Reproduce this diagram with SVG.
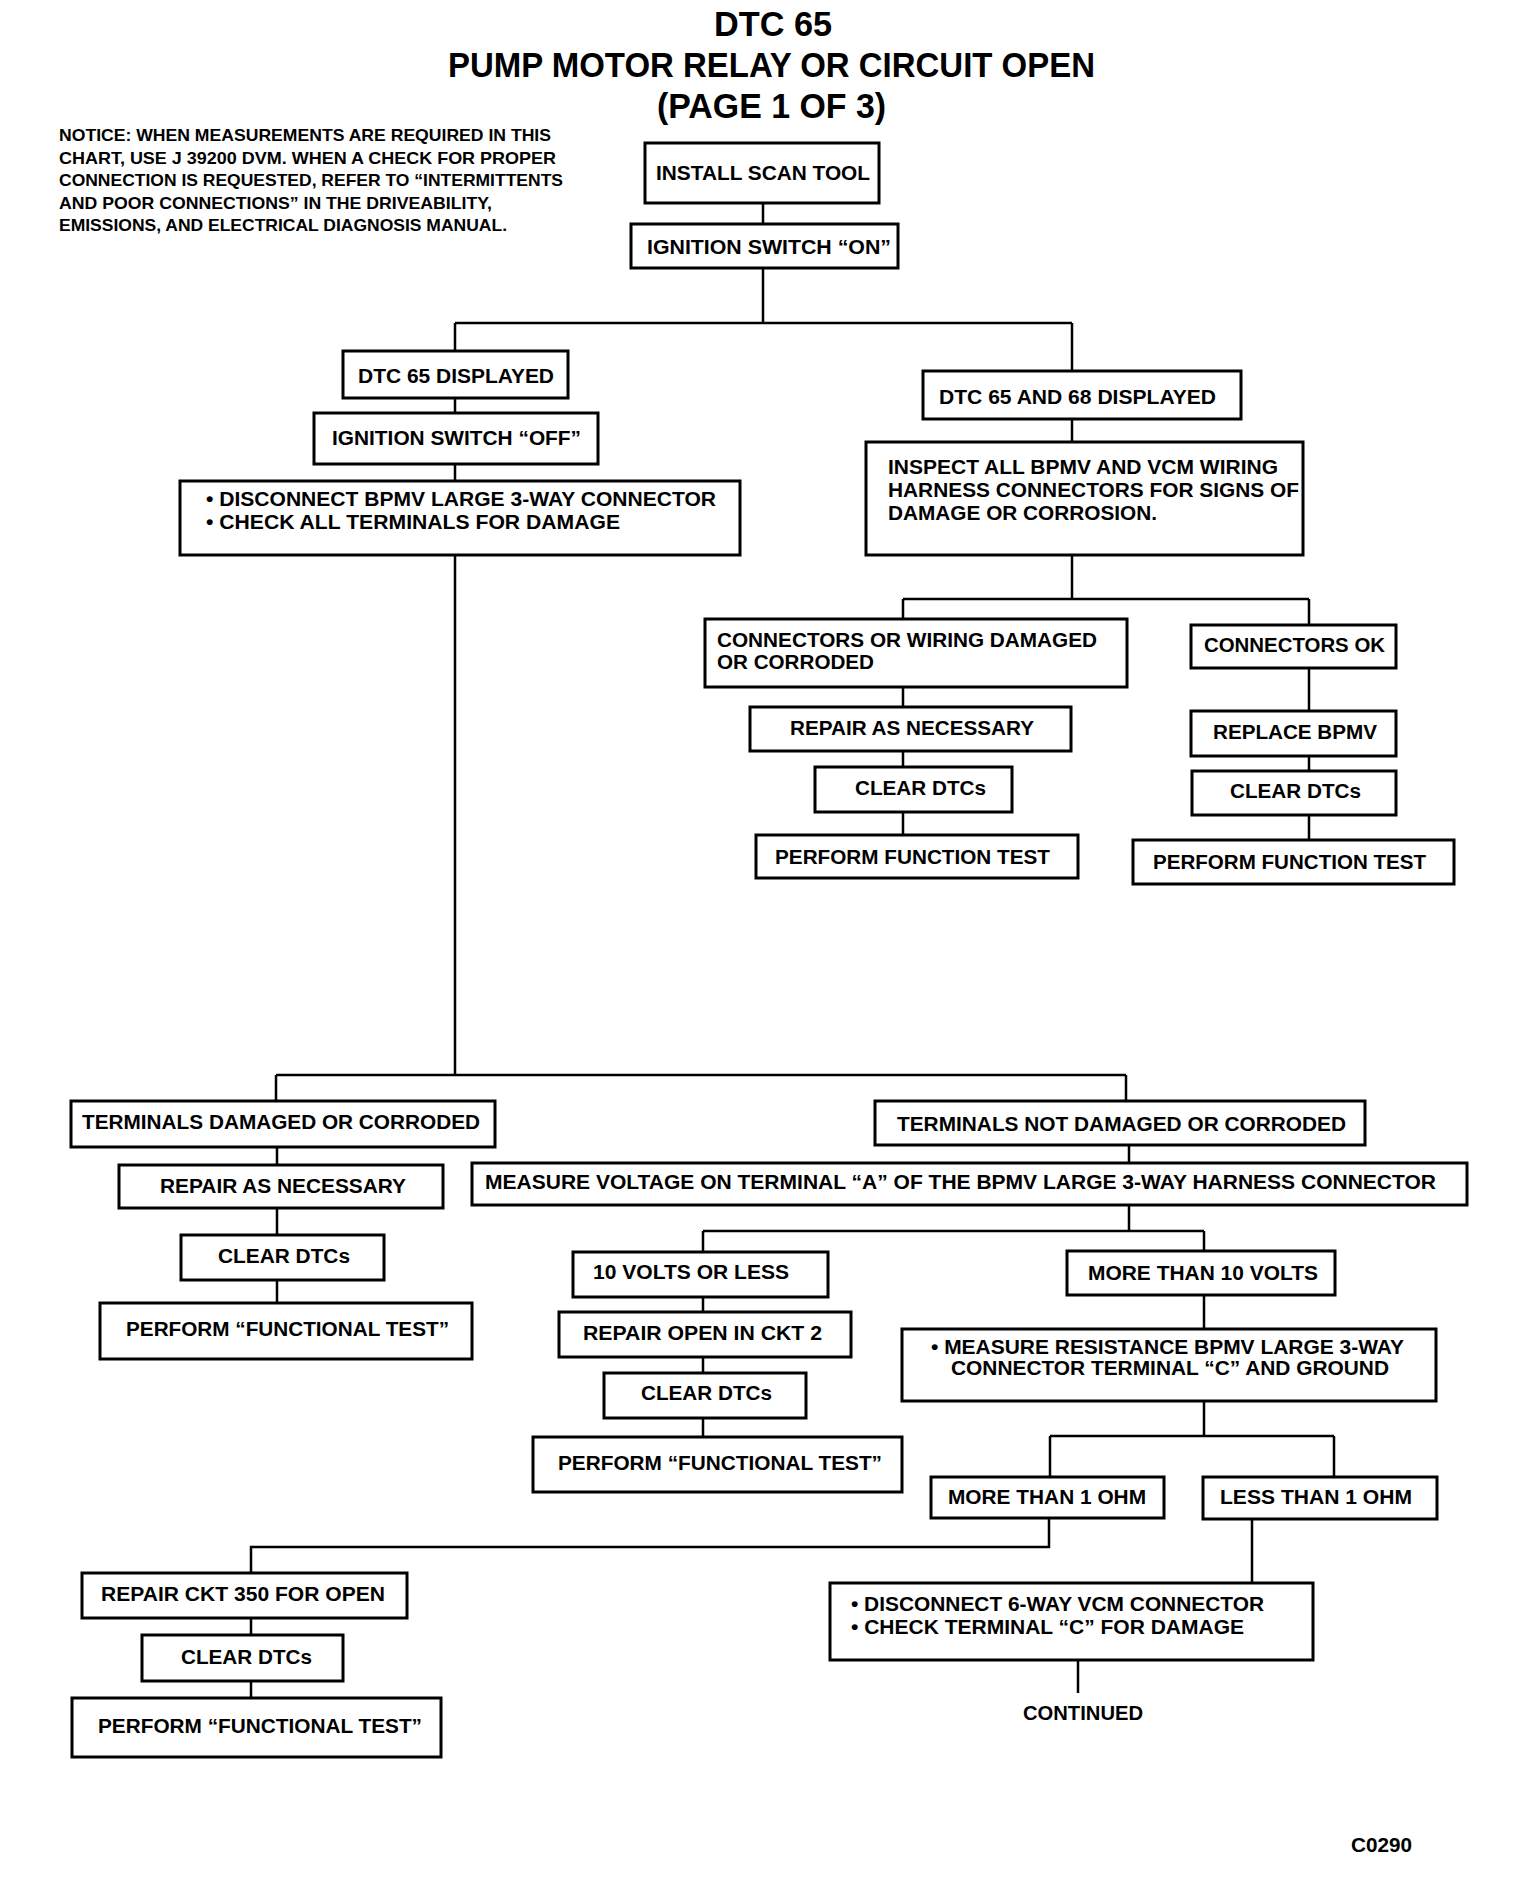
<svg xmlns="http://www.w3.org/2000/svg" width="1536" height="1888" viewBox="0 0 1536 1888">
<style>
.bx{fill:#fff;stroke:#000;stroke-width:3}
.t{font-family:"Liberation Sans",Arial,sans-serif;font-weight:bold;font-size:20px;fill:#000}
.n{font-family:"Liberation Sans",Arial,sans-serif;font-weight:bold;font-size:16.5px;fill:#000}
.h{font-family:"Liberation Sans",Arial,sans-serif;font-weight:bold;font-size:35px;fill:#000}
.ln{stroke:#000;stroke-width:2.5;fill:none}
</style>
<rect width="1536" height="1888" fill="#fff"/>
<g id="title">
<text class="h" x="714" y="36" textLength="118" lengthAdjust="spacingAndGlyphs">DTC 65</text>
<text class="h" x="448" y="77" textLength="647" lengthAdjust="spacingAndGlyphs">PUMP MOTOR RELAY OR CIRCUIT OPEN</text>
<text class="h" x="657" y="118" textLength="229" lengthAdjust="spacingAndGlyphs">(PAGE 1 OF 3)</text>
</g>
<g id="notice">
<text class="n" x="59" y="141" textLength="492" lengthAdjust="spacingAndGlyphs">NOTICE: WHEN MEASUREMENTS ARE REQUIRED IN THIS</text>
<text class="n" x="59" y="164" textLength="497" lengthAdjust="spacingAndGlyphs">CHART, USE J 39200 DVM. WHEN A CHECK FOR PROPER</text>
<text class="n" x="59" y="186" textLength="504" lengthAdjust="spacingAndGlyphs">CONNECTION IS REQUESTED, REFER TO “INTERMITTENTS</text>
<text class="n" x="59" y="209" textLength="433" lengthAdjust="spacingAndGlyphs">AND POOR CONNECTIONS” IN THE DRIVEABILITY,</text>
<text class="n" x="59" y="231" textLength="448" lengthAdjust="spacingAndGlyphs">EMISSIONS, AND ELECTRICAL DIAGNOSIS MANUAL.</text>
</g>
<g id="connectors">
<path class="ln" d="M763 203V224M763 268V323M455 323H1072M455 323V351M455 398V413M455 464V481M455 555V1075"/>
<path class="ln" d="M1072 323V371M1072 419V442M1072 555V599M903 599H1309M903 599V619M903 687V707M903 751V767M903 812V835"/>
<path class="ln" d="M1309 599V625M1309 668V711M1309 756V771M1309 815V840"/>
<path class="ln" d="M276 1075H1126M276 1075V1101M277 1147V1165M277 1208V1235M277 1280V1303"/>
<path class="ln" d="M1126 1075V1101M1129 1145V1163M1129 1205V1231M703 1231H1204M703 1231V1252M703 1297V1312M703 1357V1373M703 1418V1437"/>
<path class="ln" d="M1204 1231V1251M1204 1295V1329M1204 1401V1436M1050 1436H1334M1050 1436V1477M1334 1436V1477"/>
<path class="ln" d="M1049 1518V1547H251V1573M251 1618V1635M251 1681V1698M1252 1519V1583M1078 1660V1693"/>
</g>
<g id="n_install"><rect class="bx" x="645" y="143" width="234" height="60"/><text class="t" x="656" y="180" textLength="214" lengthAdjust="spacingAndGlyphs">INSTALL SCAN TOOL</text></g>
<g id="n_ign_on"><rect class="bx" x="631" y="224" width="267" height="44"/><text class="t" x="647" y="254" textLength="244" lengthAdjust="spacingAndGlyphs">IGNITION SWITCH “ON”</text></g>
<g id="n_dtc65"><rect class="bx" x="343" y="351" width="225" height="47"/><text class="t" x="358" y="383" textLength="196" lengthAdjust="spacingAndGlyphs">DTC 65 DISPLAYED</text></g>
<g id="n_ign_off"><rect class="bx" x="314" y="413" width="284" height="51"/><text class="t" x="332" y="445" textLength="249" lengthAdjust="spacingAndGlyphs">IGNITION SWITCH “OFF”</text></g>
<g id="n_disc_bpmv"><rect class="bx" x="180" y="481" width="560" height="74"/>
<text class="t" x="206" y="506" textLength="510" lengthAdjust="spacingAndGlyphs">• DISCONNECT BPMV LARGE 3-WAY CONNECTOR</text>
<text class="t" x="206" y="529" textLength="414" lengthAdjust="spacingAndGlyphs">• CHECK ALL TERMINALS FOR DAMAGE</text></g>
<g id="n_dtc6568"><rect class="bx" x="923" y="371" width="318" height="48"/><text class="t" x="939" y="404" textLength="277" lengthAdjust="spacingAndGlyphs">DTC 65 AND 68 DISPLAYED</text></g>
<g id="n_inspect"><rect class="bx" x="866" y="442" width="437" height="113"/>
<text class="t" x="888" y="474" textLength="390" lengthAdjust="spacingAndGlyphs">INSPECT ALL BPMV AND VCM WIRING</text>
<text class="t" x="888" y="497" textLength="411" lengthAdjust="spacingAndGlyphs">HARNESS CONNECTORS FOR SIGNS OF</text>
<text class="t" x="888" y="520" textLength="269" lengthAdjust="spacingAndGlyphs">DAMAGE OR CORROSION.</text></g>
<g id="n_conn_dmg"><rect class="bx" x="705" y="619" width="422" height="68"/>
<text class="t" x="717" y="647" textLength="380" lengthAdjust="spacingAndGlyphs">CONNECTORS OR WIRING DAMAGED</text>
<text class="t" x="717" y="669" textLength="157" lengthAdjust="spacingAndGlyphs">OR CORRODED</text></g>
<g id="n_conn_ok"><rect class="bx" x="1191" y="625" width="205" height="43"/><text class="t" x="1204" y="652" textLength="181" lengthAdjust="spacingAndGlyphs">CONNECTORS OK</text></g>
<g id="n_repair1"><rect class="bx" x="750" y="707" width="321" height="44"/><text class="t" x="790" y="735" textLength="244" lengthAdjust="spacingAndGlyphs">REPAIR AS NECESSARY</text></g>
<g id="n_clear1"><rect class="bx" x="815" y="767" width="197" height="45"/><text class="t" x="855" y="795" textLength="131" lengthAdjust="spacingAndGlyphs">CLEAR DTCs</text></g>
<g id="n_perf1"><rect class="bx" x="756" y="835" width="322" height="43"/><text class="t" x="775" y="864" textLength="275" lengthAdjust="spacingAndGlyphs">PERFORM FUNCTION TEST</text></g>
<g id="n_replace"><rect class="bx" x="1191" y="711" width="205" height="45"/><text class="t" x="1213" y="739" textLength="164" lengthAdjust="spacingAndGlyphs">REPLACE BPMV</text></g>
<g id="n_clear2"><rect class="bx" x="1192" y="771" width="204" height="44"/><text class="t" x="1230" y="798" textLength="131" lengthAdjust="spacingAndGlyphs">CLEAR DTCs</text></g>
<g id="n_perf2"><rect class="bx" x="1133" y="840" width="321" height="44"/><text class="t" x="1153" y="869" textLength="273" lengthAdjust="spacingAndGlyphs">PERFORM FUNCTION TEST</text></g>
<g id="n_term_dmg"><rect class="bx" x="71" y="1101" width="424" height="46"/><text class="t" x="82" y="1129" textLength="398" lengthAdjust="spacingAndGlyphs">TERMINALS DAMAGED OR CORRODED</text></g>
<g id="n_repair2"><rect class="bx" x="119" y="1165" width="324" height="43"/><text class="t" x="160" y="1193" textLength="246" lengthAdjust="spacingAndGlyphs">REPAIR AS NECESSARY</text></g>
<g id="n_clear3"><rect class="bx" x="181" y="1235" width="203" height="45"/><text class="t" x="218" y="1263" textLength="132" lengthAdjust="spacingAndGlyphs">CLEAR DTCs</text></g>
<g id="n_perf3"><rect class="bx" x="100" y="1303" width="372" height="56"/><text class="t" x="126" y="1336" textLength="323" lengthAdjust="spacingAndGlyphs">PERFORM “FUNCTIONAL TEST”</text></g>
<g id="n_term_ok"><rect class="bx" x="875" y="1101" width="490" height="44"/><text class="t" x="897" y="1131" textLength="449" lengthAdjust="spacingAndGlyphs">TERMINALS NOT DAMAGED OR CORRODED</text></g>
<g id="n_measure_v"><rect class="bx" x="472" y="1163" width="995" height="42"/><text class="t" x="485" y="1189" textLength="951" lengthAdjust="spacingAndGlyphs">MEASURE VOLTAGE ON TERMINAL “A” OF THE BPMV LARGE 3-WAY HARNESS CONNECTOR</text></g>
<g id="n_10less"><rect class="bx" x="573" y="1252" width="255" height="45"/><text class="t" x="593" y="1279" textLength="196" lengthAdjust="spacingAndGlyphs">10 VOLTS OR LESS</text></g>
<g id="n_10more"><rect class="bx" x="1067" y="1251" width="268" height="44"/><text class="t" x="1088" y="1280" textLength="230" lengthAdjust="spacingAndGlyphs">MORE THAN 10 VOLTS</text></g>
<g id="n_repair_ckt2"><rect class="bx" x="559" y="1312" width="292" height="45"/><text class="t" x="583" y="1340" textLength="239" lengthAdjust="spacingAndGlyphs">REPAIR OPEN IN CKT 2</text></g>
<g id="n_clear4"><rect class="bx" x="604" y="1373" width="202" height="45"/><text class="t" x="641" y="1400" textLength="131" lengthAdjust="spacingAndGlyphs">CLEAR DTCs</text></g>
<g id="n_perf4"><rect class="bx" x="533" y="1437" width="369" height="55"/><text class="t" x="558" y="1470" textLength="324" lengthAdjust="spacingAndGlyphs">PERFORM “FUNCTIONAL TEST”</text></g>
<g id="n_measure_r"><rect class="bx" x="902" y="1329" width="534" height="72"/>
<text class="t" x="931" y="1354" textLength="473" lengthAdjust="spacingAndGlyphs">• MEASURE RESISTANCE BPMV LARGE 3-WAY</text>
<text class="t" x="951" y="1375" textLength="438" lengthAdjust="spacingAndGlyphs">CONNECTOR TERMINAL “C” AND GROUND</text></g>
<g id="n_more1"><rect class="bx" x="931" y="1477" width="233" height="41"/><text class="t" x="948" y="1504" textLength="198" lengthAdjust="spacingAndGlyphs">MORE THAN 1 OHM</text></g>
<g id="n_less1"><rect class="bx" x="1203" y="1477" width="234" height="42"/><text class="t" x="1220" y="1504" textLength="192" lengthAdjust="spacingAndGlyphs">LESS THAN 1 OHM</text></g>
<g id="n_repair350"><rect class="bx" x="82" y="1573" width="325" height="45"/><text class="t" x="101" y="1601" textLength="284" lengthAdjust="spacingAndGlyphs">REPAIR CKT 350 FOR OPEN</text></g>
<g id="n_clear5"><rect class="bx" x="142" y="1635" width="201" height="46"/><text class="t" x="181" y="1664" textLength="131" lengthAdjust="spacingAndGlyphs">CLEAR DTCs</text></g>
<g id="n_perf5"><rect class="bx" x="72" y="1698" width="369" height="59"/><text class="t" x="98" y="1733" textLength="324" lengthAdjust="spacingAndGlyphs">PERFORM “FUNCTIONAL TEST”</text></g>
<g id="n_disc_vcm"><rect class="bx" x="830" y="1583" width="483" height="77"/>
<text class="t" x="851" y="1611" textLength="413" lengthAdjust="spacingAndGlyphs">• DISCONNECT 6-WAY VCM CONNECTOR</text>
<text class="t" x="851" y="1634" textLength="393" lengthAdjust="spacingAndGlyphs">• CHECK TERMINAL “C” FOR DAMAGE</text></g>
<g id="n_continued"><text class="t" x="1023" y="1720" textLength="120" lengthAdjust="spacingAndGlyphs">CONTINUED</text></g>
<g id="code"><text class="t" x="1351" y="1852" textLength="61" lengthAdjust="spacingAndGlyphs">C0290</text></g>
</svg>
